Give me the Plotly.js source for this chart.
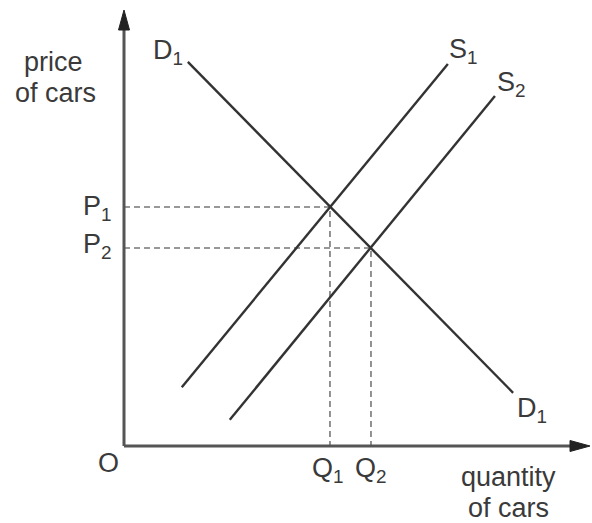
<!DOCTYPE html>
<html>
<head>
<meta charset="utf-8">
<script src="https://cdn.plot.ly/plotly-3.0.1.min.js"></script>
<style>html,body{margin:0;padding:0;background:#fff;}#chart{width:592px;height:523px;}</style>
</head>
<body>
<div id="chart"></div>
<script>
// Demand and supply curves (abstract quantity / price units)
const demandX = [1.37, 8.35];
const demandY = [8.81, 1.22];
const supply1X = [1.24, 6.95];
const supply1Y = [1.35, 8.76];
const supply2X = [2.27, 7.96];
const supply2Y = [0.60, 8.03];
// Equilibria
const eqQ = [4.42, 5.30];
const eqP = [5.48, 4.54];
const priceLabels = ['P<sub>1</sub>', 'P<sub>2</sub>'];
const qtyLabels = ['Q<sub>1</sub>', 'Q<sub>2</sub>'];
const curveLabels = {D: 'D<sub>1</sub>', S1: 'S<sub>1</sub>', S2: 'S<sub>2</sub>'};
const axisMax = 10;

const lineColor = '#333333';
const textColor = '#3a3a3a';
const fontFam = '"Liberation Sans", Arial, sans-serif';
const fs = 27;

// page geometry
const W = 592, H = 523, ML = 101, MR = 0, MT = 0, MB = 53;
const originPx = [124, 446];
const pxX = 46.6, pxY = 43.6;          // pixels per axis unit
const plotW = W - ML - MR, plotH = H - MT - MB;
const xRange = [-(originPx[0] - ML) / pxX, -(originPx[0] - ML) / pxX + plotW / pxX];
const yRange = [-(H - MB - originPx[1]) / pxY, -(H - MB - originPx[1]) / pxY + plotH / pxY];
const paperX = px => (px - ML) / plotW;
const paperY = py => (H - MB - py) / plotH;

const traces = [];
// dashed guide lines
for (let i = 0; i < eqQ.length; i++) {
  traces.push({
    x: [0, eqQ[i], eqQ[i]], y: [eqP[i], eqP[i], 0],
    mode: 'lines', line: {color: '#777777', width: 1.6, dash: '6px,4px'},
    hoverinfo: 'skip'
  });
}
traces.push({x: demandX, y: demandY, mode: 'lines', line: {color: lineColor, width: 2.4}, hoverinfo: 'skip'});
traces.push({x: supply1X, y: supply1Y, mode: 'lines', line: {color: lineColor, width: 2.4}, hoverinfo: 'skip'});
traces.push({x: supply2X, y: supply2Y, mode: 'lines', line: {color: lineColor, width: 2.4}, hoverinfo: 'skip'});

function lab(text, x, y, xs, ys, xref, yref) {
  return {text: text, x: x, y: y, xref: xref || 'x', yref: yref || 'y', xshift: xs, yshift: ys,
    showarrow: false, xanchor: 'center', yanchor: 'middle',
    font: {family: fontFam, size: fs, color: textColor}};
}

const annotations = [
  lab('price', paperX(53), paperY(62), 0, 0, 'paper', 'paper'),
  lab('of cars', paperX(55), paperY(93), 0, 0, 'paper', 'paper'),
  lab('quantity', paperX(508), paperY(477), 0, 0, 'paper', 'paper'),
  lab('of cars', paperX(508), paperY(508), 0, 0, 'paper', 'paper'),
  lab('O', 0, 0, -16, -17),
  lab(curveLabels.D, demandX[0], demandY[0], -20, 10),
  lab(curveLabels.D, demandX[1], demandY[1], 19, -17),
  lab(curveLabels.S1, supply1X[1], supply1Y[1], 16, 13),
  lab(curveLabels.S2, supply2X[1], supply2Y[1], 17, 12),
  lab(priceLabels[0], 0, eqP[0], -27, -1),
  lab(priceLabels[1], 0, eqP[1], -27, 2),
  lab(qtyLabels[0], eqQ[0], 0, -2, -24),
  lab(qtyLabels[1], eqQ[1], 0, 0, -24)
];

const axisColor = '#555555';
// arrowhead sizes in pixels converted to axis units
const headLen = 20, headHalf = 5.5;
const hx = headLen / pxX, hy = headHalf / pxY;
const vx = headHalf / pxX, vy = headLen / pxY;
const shapes = [
  {type: 'line', xref: 'x', yref: 'y', x0: 0, y0: 0, x1: axisMax - hx, y1: 0, line: {color: axisColor, width: 3}},
  {type: 'line', xref: 'x', yref: 'y', x0: 0, y0: 0, x1: 0, y1: axisMax - vy, line: {color: axisColor, width: 3}},
  {type: 'path', xref: 'x', yref: 'y',
   path: 'M' + axisMax + ',0 L' + (axisMax - hx) + ',' + hy + ' L' + (axisMax - hx) + ',' + (-hy) + ' Z',
   fillcolor: '#222222', line: {color: '#222222', width: 1}},
  {type: 'path', xref: 'x', yref: 'y',
   path: 'M0,' + axisMax + ' L' + (-vx) + ',' + (axisMax - vy) + ' L' + vx + ',' + (axisMax - vy) + ' Z',
   fillcolor: '#222222', line: {color: '#222222', width: 1}}
];

const layout = {
  width: W, height: H,
  margin: {l: ML, r: MR, t: MT, b: MB, pad: 0},
  paper_bgcolor: '#ffffff', plot_bgcolor: '#ffffff',
  showlegend: false,
  xaxis: {range: xRange, visible: false, fixedrange: true},
  yaxis: {range: yRange, visible: false, fixedrange: true},
  annotations: annotations,
  shapes: shapes
};

Plotly.newPlot('chart', traces, layout, {staticPlot: true, displayModeBar: false});
</script>
</body>
</html>
